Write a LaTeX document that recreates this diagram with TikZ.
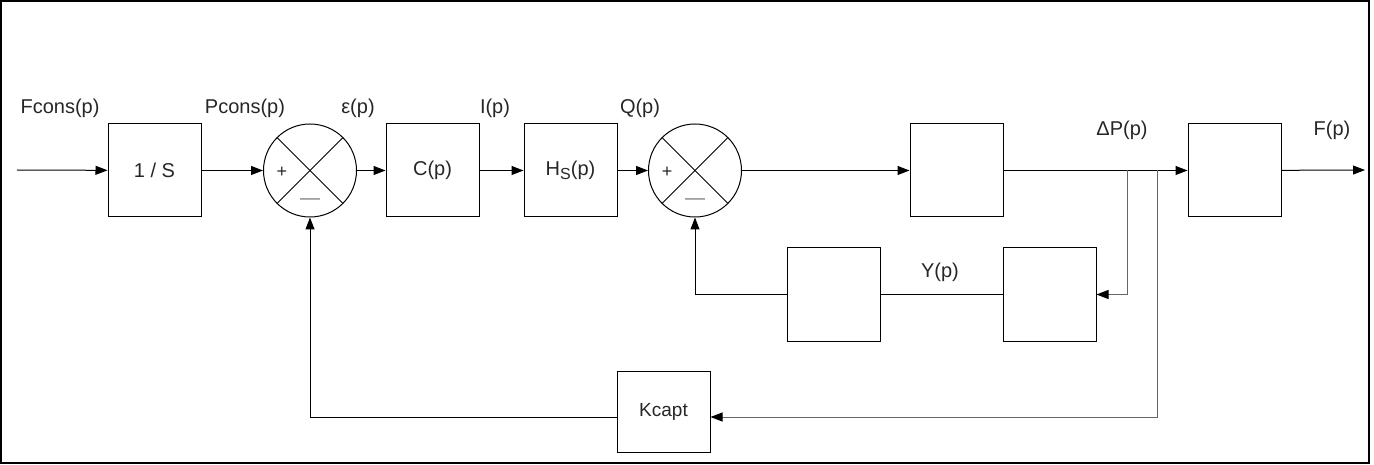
\documentclass[tikz,border=0pt]{standalone}
\usepackage{fontspec}
\setmainfont{Liberation Sans}
\usepackage{tikz}
\usetikzlibrary{arrows.meta}

\begin{document}
\begin{tikzpicture}[x=1pt, y=-1pt,
    bloc/.style={draw, line width=1pt, minimum width=93pt, minimum height=93pt,
                 inner sep=0pt, font=\fontsize{20}{24}\selectfont, text=black!85},
    sommateur/.style={draw, circle, line width=1pt, minimum size=93pt, inner sep=0pt},
    signal/.style={font=\fontsize{20}{24}\selectfont, text=black!85, inner sep=0pt},
    fleche/.style={line width=1pt, -{Triangle[length=12pt, width=9pt, color=black]}},
    trait/.style={line width=1pt}]

    \useasboundingbox (0,0) rectangle (1374,465);
    % cadre
    \draw[line width=1.2pt] (1,1) rectangle (1369,463);

    % chaine directe
    \coordinate (entree) at (17,170);
    \node[bloc] (integ) at (154.5,170.5) {1 / S};
    \node[sommateur] (som1) at (310,170.5) {};
    \node[bloc] (correc) at (432.5,170.5) {C(p)};
    \node[bloc] (hs) at (570.5,170.5) {H\raisebox{-0.2em}{\fontsize{16}{16}\selectfont S}(p)};
    \node[sommateur] (som2) at (695,170.5) {};
    \node[bloc] (proc) at (956.5,170.5) {};
    \node[bloc] (sortie) at (1234.5,170.5) {};
    \coordinate (fin) at (1365,170);

    % boucles de retour
    \node[bloc] (retX) at (833.5,294.5) {};
    \node[bloc] (retY) at (1049.5,294.5) {};
    \node[bloc, minimum height=81pt, font=\fontsize{19}{22}\selectfont] (kcapt) at (663.5,411.5) {Kcapt};
    \coordinate (b1) at (1127,170);
    \coordinate (b2) at (1157,170);

    % croix des sommateurs
    \foreach \s in {som1, som2} {
      \draw[line width=0.8pt] (\s.north east) -- (\s.south west);
      \draw[line width=0.8pt] (\s.north west) -- (\s.south east);
      \node[font=\fontsize{18}{18}\selectfont, text=black!85] at ([xshift=-28pt, yshift=-2pt]\s.center) {+};
      \node[font=\fontsize{20}{20}\selectfont, text=black!50] at ([yshift=-31pt]\s.center) {—};
    }

    % liaisons
    \draw[fleche] (entree) -- (integ);
    \draw[fleche] (integ) -- (som1);
    \draw[fleche] (som1) -- (correc);
    \draw[fleche] (correc) -- (hs);
    \draw[fleche] (hs) -- (som2);
    \draw[fleche] (som2) -- (proc);
    \draw[fleche] (proc) -- (sortie);
    \draw[fleche] (sortie) -- (fin);
    \draw[fleche, draw=black!60] (b1) |- (retY.east);
    \draw[trait] (retY.west) -- (retX.east);
    \draw[fleche] (retX.west) -| (som2.south);
    \draw[fleche, draw=black!60] (b2) |- ([yshift=-5.5pt]kcapt.east);
    \draw[fleche] ([yshift=-5.5pt]kcapt.west) -| (som1.south);

    % signaux
    \node[signal] (fcons) at (60,108) {Fcons(p)};
    \node[signal] (pcons) at (245,108) {Pcons(p)};
    \node[signal] (eps) at (358,108) {ε(p)};
    \node[signal] (ip) at (495,108) {I(p)};
    \node[signal] (qp) at (640,108) {Q(p)};
    \node[signal] (dp) at (1122,130) {ΔP(p)};
    \node[signal] (fp) at (1332,130) {F(p)};
    \node[signal] (yp) at (940,272) {Y(p)};
  \end{tikzpicture}
\end{document}
